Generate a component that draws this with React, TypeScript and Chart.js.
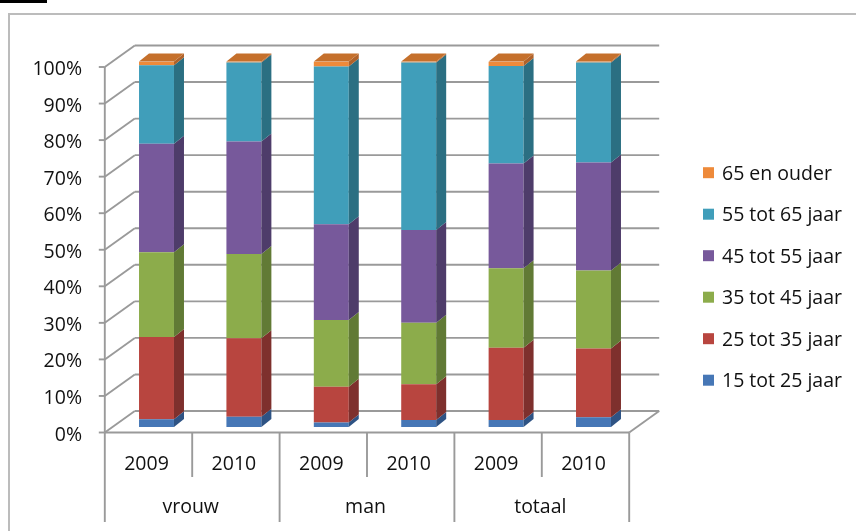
import { useEffect, useRef } from "react";
import { Chart, registerables } from "chart.js";

Chart.register(...registerables);

// ---- data ----
const categories = ["2009", "2010", "2009", "2010", "2009", "2010"];
const groups = ["vrouw", "man", "totaal"];
const seriesNames = [
  "15 tot 25 jaar",
  "25 tot 35 jaar",
  "35 tot 45 jaar",
  "45 tot 55 jaar",
  "55 tot 65 jaar",
  "65 en ouder",
];
const age15to25 = [2.1, 2.8, 1.2, 1.9, 1.9, 2.7];
const age25to35 = [22.5, 21.5, 9.8, 9.8, 19.8, 18.8];
const age35to45 = [23.2, 23.0, 18.3, 16.8, 21.7, 21.3];
const age45to55 = [29.7, 30.8, 26.2, 25.4, 28.7, 29.6];
const age55to65 = [21.5, 21.6, 43.1, 45.8, 26.7, 27.3];
const age65plus = [1.0, 0.3, 1.4, 0.3, 1.2, 0.3];
const yTickValues = [0, 10, 20, 30, 40, 50, 60, 70, 80, 90, 100];

// ---- styles ----
const frontColors = ["#4677B6", "#B8453F", "#8CAC4B", "#77599B", "#409EBA", "#EE8A3A"];
const sideColors = ["#2E5384", "#7E302D", "#617A35", "#4E3C6A", "#2B6F82", "#B0622A"];
const topColors = ["#5A8BC8", "#C9625C", "#A3C066", "#8E74AE", "#5DB3CC", "#C5702C"];
const FONT = '"Open Sans", "DejaVu Sans", sans-serif';
const TEXT = "#111111";
const FRONT = { dx: -8, dy: 5.5 };
const BACK = { dx: 22, dy: -16 };
const BAR_DEPTH = { dx: 10, dy: -8 };
const LINE = "#9a9a9a";

const wallsPlugin = {
  id: "walls3d",
  beforeDatasetsDraw(chart: any) {
    const { ctx, chartArea } = chart;
    const { left, right } = chartArea;
    const y = chart.scales.y;
    const x = chart.scales.x;
    const x2 = chart.scales.x2;
    const line = (ax: number, ay: number, bx: number, by: number) => {
      ctx.beginPath();
      ctx.moveTo(ax, ay);
      ctx.lineTo(bx, by);
      ctx.stroke();
    };
    ctx.save();
    ctx.strokeStyle = LINE;
    ctx.lineWidth = 1.9;
    for (const v of yTickValues) {
      const py = y.getPixelForValue(v);
      line(left + BACK.dx, py + BACK.dy, right + BACK.dx, py + BACK.dy);
      line(left + FRONT.dx, py + FRONT.dy, left + BACK.dx, py + BACK.dy);
      line(left + FRONT.dx - 6, py + FRONT.dy, left + FRONT.dx, py + FRONT.dy);
    }
    const y0 = y.getPixelForValue(0);
    const y100 = y.getPixelForValue(100);
    // front axis
    line(left + FRONT.dx, y100 + FRONT.dy, left + FRONT.dx, y0 + FRONT.dy);
    // floor front + right edges
    line(left + FRONT.dx, y0 + FRONT.dy, right + FRONT.dx, y0 + FRONT.dy);
    line(right + FRONT.dx, y0 + FRONT.dy, right + BACK.dx, y0 + BACK.dy);
    // category dividers
    const n = categories.length;
    const step = (right - left) / n;
    for (let i = 0; i <= n; i++) {
      const px = left + i * step + FRONT.dx;
      const bottom = i % 2 === 0 ? x2.bottom - 9 : x.bottom - 8;
      line(px, y0 + FRONT.dy, px, bottom);
    }
    ctx.restore();
  },
};

const bars3dPlugin = {
  id: "bars3d",
  afterDatasetsDraw(chart: any) {
    const { ctx } = chart;
    const count = chart.data.datasets.length;
    ctx.save();
    for (let d = 0; d < count; d++) {
      const meta = chart.getDatasetMeta(d);
      meta.data.forEach((bar: any) => {
        const { x, y, base, width } = bar.getProps(["x", "y", "base", "width"], true);
        const l = x - width / 2;
        const r = x + width / 2;
        const top = Math.min(y, base);
        const bot = Math.max(y, base);
        ctx.fillStyle = sideColors[d];
        ctx.beginPath();
        ctx.moveTo(r, top);
        ctx.lineTo(r + BAR_DEPTH.dx, top + BAR_DEPTH.dy);
        ctx.lineTo(r + BAR_DEPTH.dx, bot + BAR_DEPTH.dy);
        ctx.lineTo(r, bot);
        ctx.closePath();
        ctx.fill();
        if (d === count - 1) {
          ctx.fillStyle = topColors[d];
          ctx.beginPath();
          ctx.moveTo(l, top);
          ctx.lineTo(l + BAR_DEPTH.dx, top + BAR_DEPTH.dy);
          ctx.lineTo(r + BAR_DEPTH.dx, top + BAR_DEPTH.dy);
          ctx.lineTo(r, top);
          ctx.closePath();
          ctx.fill();
        }
      });
    }
    ctx.restore();
  },
};

const legendPlugin = {
  id: "sideLegend",
  afterDraw(chart: any) {
    const { ctx } = chart;
    const ds = chart.data.datasets;
    ctx.save();
    ctx.font = `500 19.5px ${FONT}`;
    ctx.textBaseline = "middle";
    ctx.textAlign = "left";
    for (let k = 0; k < ds.length; k++) {
      const d = ds.length - 1 - k;
      const cy = 172.7 + k * 41.5;
      ctx.fillStyle = ds[d].backgroundColor;
      ctx.fillRect(703, cy - 5.5, 11, 11);
      ctx.fillStyle = TEXT;
      ctx.fillText(ds[d].label, 722, cy + 1.4);
    }
    ctx.restore();
  },
};

export default function App() {
  const ref = useRef<HTMLCanvasElement | null>(null);

  useEffect(() => {
    if (!ref.current) return;
    const series = [age15to25, age25to35, age35to45, age45to55, age55to65, age65plus];
    const tickFont = { family: FONT, size: 19.5, weight: 500 as any };
    const chart = new Chart(ref.current, {
      type: "bar",
      data: {
        labels: categories,
        datasets: series.map((vals, i) => ({
          label: seriesNames[i],
          data: vals,
          backgroundColor: frontColors[i],
          borderWidth: 0,
          categoryPercentage: 1,
          barPercentage: 0.4,
        })),
      },
      options: {
        responsive: false,
        animation: false,
        devicePixelRatio: 1,
        layout: { padding: { top: 61.5, left: 0, right: 218.8, bottom: 0 } },
        plugins: { legend: { display: false }, tooltip: { enabled: false } },
        scales: {
          x: {
            stacked: true,
            weight: 0,
            grid: { display: false, drawTicks: false },
            border: { display: false },
            ticks: {
              padding: 26,
              labelOffset: -10,
              maxRotation: 0,
              autoSkip: false,
              color: TEXT,
              font: tickFont,
            },
            afterFit: (s: any) => {
              s.height = 58;
            },
          },
          x2: {
            type: "category",
            labels: groups,
            position: "bottom",
            offset: true,
            weight: 1,
            grid: { display: false, drawTicks: false },
            border: { display: false },
            ticks: {
              padding: 11,
              labelOffset: -9.5,
              maxRotation: 0,
              color: TEXT,
              font: tickFont,
            },
            afterFit: (s: any) => {
              s.height = 46;
            },
          },
          y: {
            stacked: true,
            min: 0,
            max: 100,
            grid: { display: false, drawTicks: false },
            border: { display: false },
            ticks: {
              stepSize: 10,
              padding: 30.8,
              labelOffset: 8,
              color: TEXT,
              font: tickFont,
              callback: (v: any) => `${v}%`,
            },
            afterFit: (s: any) => {
              s.width = 112.8;
            },
          },
        },
      } as any,
      plugins: [wallsPlugin, bars3dPlugin, legendPlugin],
    });
    return () => chart.destroy();
  }, []);

  return (
    <div
      style={{
        position: "fixed",
        left: 0,
        top: 0,
        width: 856,
        height: 531,
        overflow: "hidden",
        background: "#fff",
      }}
    >
      <div
        style={{
          position: "absolute",
          left: 8,
          top: 13,
          width: 900,
          height: 600,
          border: "2px solid #bcbcbc",
        }}
      />
      <div style={{ position: "absolute", left: 0, top: 0, width: 47, height: 3, background: "#000" }} />
      <canvas
        ref={ref}
        width={856}
        height={531}
        style={{ position: "absolute", left: 0, top: 0, width: 856, height: 531 }}
      />
    </div>
  );
}
